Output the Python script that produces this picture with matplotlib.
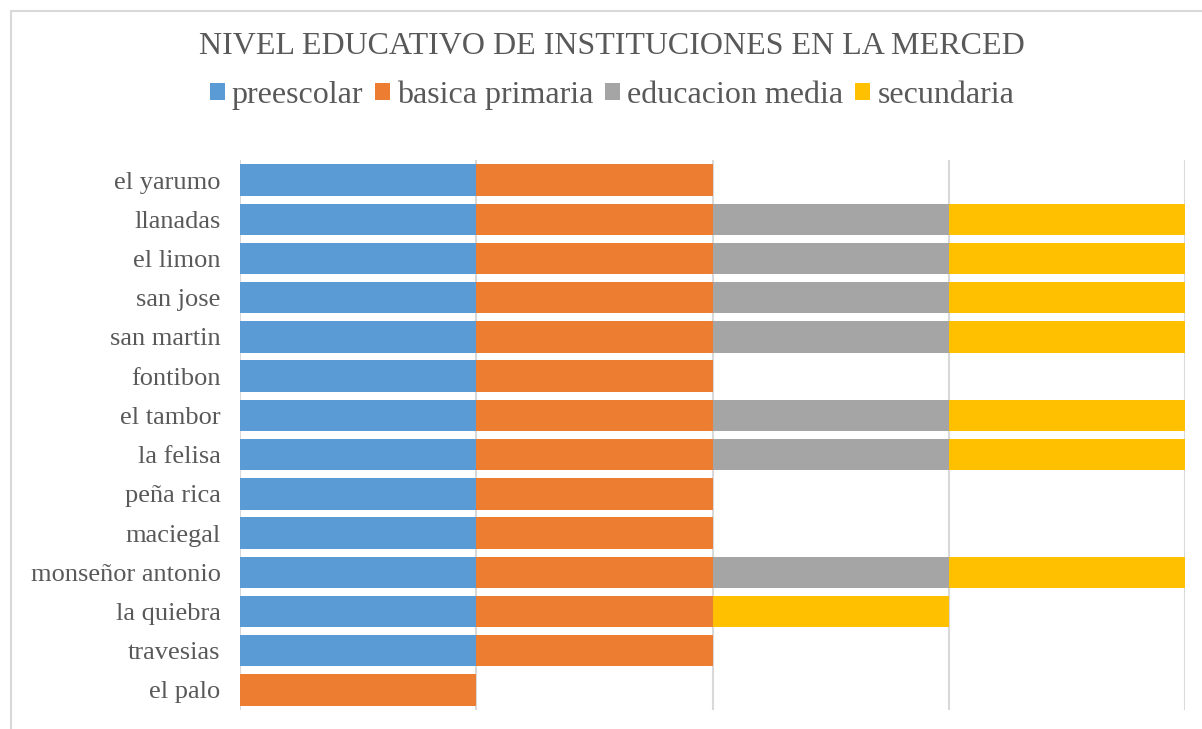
import matplotlib.pyplot as plt
from matplotlib.patches import Rectangle
import numpy as np

plt.rcParams['font.family'] = ['Liberation Serif', 'DejaVu Serif']

# categories listed bottom to top (matplotlib y order)
schools = ["el palo", "travesias", "la quiebra", "monseñor antonio", "maciegal",
           "peña rica", "la felisa", "el tambor", "fontibon", "san martin",
           "san jose", "el limon", "llanadas", "el yarumo"]
preescolar = [0, 1, 1, 1, 1, 1, 1, 1, 1, 1, 1, 1, 1, 1]
basica_primaria = [1, 1, 1, 1, 1, 1, 1, 1, 1, 1, 1, 1, 1, 1]
educacion_media = [0, 0, 0, 1, 0, 0, 1, 1, 0, 1, 1, 1, 1, 0]
secundaria = [0, 0, 1, 1, 0, 0, 1, 1, 0, 1, 1, 1, 1, 0]

series = [("preescolar", preescolar, "#5b9bd5"),
          ("basica primaria", basica_primaria, "#ed7d31"),
          ("educacion media", educacion_media, "#a5a5a5"),
          ("secundaria", secundaria, "#ffc000")]

W, H = 1202, 729
fig = plt.figure(figsize=(W / 100, H / 100), dpi=100)
ax = fig.add_axes([240 / W, (H - 709.6) / H, (1185 - 240) / W, (709.6 - 160.4) / H])

# chart frame
fig.patches.append(Rectangle((11 / W, -0.1), 1.2, (H - 11) / H + 0.1, transform=fig.transFigure,
                             fill=False, edgecolor="#d9d9d9", linewidth=1.5))

y = np.arange(len(schools))
left = np.zeros(len(schools))
for name, vals, color in series:
    vals = np.array(vals)
    ax.barh(y, vals, left=left, height=0.8, color=color, label=name, zorder=3)
    left += vals

ax.set_xlim(0, 4)
ax.set_ylim(-0.5, len(schools) - 0.5)
ax.set_xticks([0, 1, 2, 3, 4])
ax.set_xticklabels([])
ax.tick_params(axis="x", length=0)
ax.tick_params(axis="y", length=0, pad=14, labelsize=19, labelcolor="#595959")
ax.set_yticks(y)
ax.set_yticklabels(schools)
ax.grid(axis="x", color="#d9d9d9", linewidth=1.5, zorder=0)
for s in ax.spines.values():
    s.set_visible(False)

fig.text(612 / W, 1 - 46 / H, "NIVEL EDUCATIVO DE INSTITUCIONES EN LA MERCED",
         ha="center", va="center", fontsize=23, color="#595959")
fig.legend(loc="center", bbox_to_anchor=(612 / W, 1 - 95 / H), ncol=4, frameon=False,
           fontsize=23, labelcolor="#595959", handlelength=0.47, handleheight=0.47,
           handletextpad=0.22, columnspacing=0.37, borderpad=0.2)

fig.savefig("out.png", dpi=100)
